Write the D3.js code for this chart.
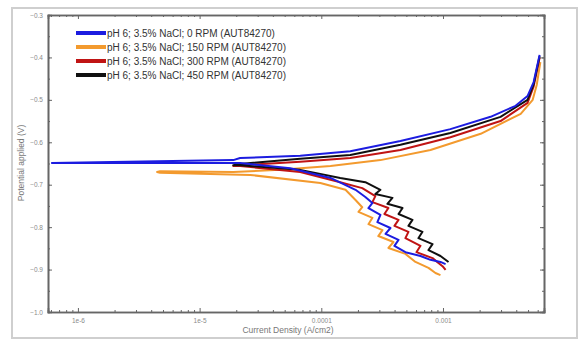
<!DOCTYPE html>
<html>
<head>
<meta charset="utf-8">
<script src="https://cdn.jsdelivr.net/npm/d3@7/dist/d3.min.js"></script>
<style>
  body { margin: 0; background: #fff; }
  svg { font-family: "Liberation Sans", Arial, sans-serif; }
</style>
</head>
<body>
<svg id="chart"></svg>
<script>
// series: current density (A/cm2) and potential (V)
const blueI = [1.05e-3, 9.53e-4, 7.89e-4, 6.53e-4, 4.91e-4, 3.99e-4, 4.31e-4, 3.37e-4, 3.70e-4, 2.89e-4, 3.06e-4, 2.44e-4, 2.63e-4, 2.30e-4, 1.91e-4, 1.19e-4, 5.56e-5, 2.15e-5, 6.11e-7, 1.89e-5, 2.15e-5, 6.71e-5, 1.73e-4, 4.47e-4, 1.15e-3, 2.46e-3, 3.95e-3, 4.95e-3, 5.56e-3, 6.22e-3]
const blueE = [-0.887, -0.882, -0.877, -0.868, -0.859, -0.844, -0.830, -0.816, -0.802, -0.788, -0.771, -0.755, -0.743, -0.729, -0.712, -0.684, -0.661, -0.649, -0.649, -0.642, -0.637, -0.632, -0.621, -0.597, -0.569, -0.540, -0.514, -0.491, -0.458, -0.394]

const orangeI = [9.53e-4, 8.67e-4, 7.60e-4, 5.94e-4, 4.91e-4, 3.56e-4, 3.92e-4, 2.94e-4, 3.18e-4, 2.44e-4, 2.63e-4, 2.02e-4, 2.17e-4, 1.91e-4, 1.58e-4, 9.82e-5, 2.61e-5, 4.73e-6, 4.47e-6, 4.73e-6, 1.89e-5, 4.60e-5, 1.19e-4, 3.06e-4, 7.89e-4, 2.04e-3, 4.35e-3, 5.46e-3, 5.89e-3, 6.31e-3]
const orangeE = [-0.913, -0.908, -0.896, -0.882, -0.863, -0.849, -0.835, -0.821, -0.807, -0.793, -0.778, -0.764, -0.753, -0.736, -0.712, -0.696, -0.677, -0.672, -0.670, -0.668, -0.670, -0.665, -0.656, -0.642, -0.618, -0.580, -0.533, -0.500, -0.465, -0.411]

const redI = [1.05e-3, 9.91e-4, 8.20e-4, 6.05e-4, 6.53e-4, 4.91e-4, 5.20e-4, 3.99e-4, 4.31e-4, 3.30e-4, 3.56e-4, 2.63e-4, 2.78e-4, 2.17e-4, 1.43e-4, 6.71e-5, 2.15e-5, 1.89e-5, 2.15e-5, 6.71e-5, 1.73e-4, 4.47e-4, 1.15e-3, 2.97e-3, 4.95e-3, 5.56e-3, 6.22e-3]
const redE = [-0.901, -0.892, -0.873, -0.859, -0.844, -0.826, -0.811, -0.797, -0.783, -0.769, -0.755, -0.741, -0.727, -0.708, -0.694, -0.670, -0.656, -0.656, -0.654, -0.646, -0.637, -0.618, -0.588, -0.550, -0.507, -0.468, -0.401]

const blackI = [1.11e-3, 9.53e-4, 7.60e-4, 8.20e-4, 6.28e-4, 6.78e-4, 5.20e-4, 5.61e-4, 4.31e-4, 4.65e-4, 3.49e-4, 3.84e-4, 2.78e-4, 3.06e-4, 2.30e-4, 1.43e-4, 6.71e-5, 2.15e-5, 1.89e-5, 2.15e-5, 6.71e-5, 1.73e-4, 4.47e-4, 1.15e-3, 2.97e-3, 4.95e-3, 5.56e-3, 6.22e-3]
const blackE = [-0.882, -0.868, -0.854, -0.840, -0.826, -0.811, -0.797, -0.783, -0.769, -0.755, -0.745, -0.731, -0.722, -0.712, -0.694, -0.684, -0.665, -0.654, -0.654, -0.651, -0.639, -0.630, -0.606, -0.578, -0.540, -0.500, -0.463, -0.397]

const legendLabels = [
  "pH 6; 3.5% NaCl; 0 RPM (AUT84270)",
  "pH 6; 3.5% NaCl; 150 RPM (AUT84270)",
  "pH 6; 3.5% NaCl; 300 RPM (AUT84270)",
  "pH 6; 3.5% NaCl; 450 RPM (AUT84270)"
]
const colors = ["#1c1ce0", "#f39a2e", "#c01414", "#101010"]

const xTicks = [1e-6, 1e-5, 1e-4, 1e-3]
const xTickLabels = ["1e-6", "1e-5", "0.0001", "0.001"]
const yTicks = [-1, -0.9, -0.8, -0.7, -0.6, -0.5, -0.4, -0.3]

const W = 579, H = 346
const svg = d3.select("svg#chart")
              .attr("width", W)
              .attr("height", H)

//outer frame
svg.append("rect")
   .attr("x", 12).attr("y", 8)
   .attr("width", 565).attr("height", 330)
   .attr("fill", "#fff")
   .attr("stroke", "#cfcfcf")
   .attr("stroke-width", 2)

const pLeft = 48, pRight = 544, pTop = 15, pBottom = 312

const x = d3.scaleLog()
            .domain([10 ** -6.246, 10 ** -2.17])
            .range([pLeft, pRight])
const y = d3.scaleLinear()
            .domain([-1, -0.3])
            .range([pBottom, pTop])

//minor ticks
const xMinor = []
for (let e = -7; e <= -2; e++) for (let m = 2; m <= 9; m++) {
  const v = m * 10 ** e
  if (v > x.domain()[0] && v < x.domain()[1]) xMinor.push(v)
}
const yMinor = d3.range(-1, -0.29, 0.05)

const axisColor = "#666"
const g = svg.append("g")

// bottom / top
g.append("g")
 .attr("transform", `translate(0,${pBottom})`)
 .call(d3.axisBottom(x).tickValues(xMinor).tickSize(-2).tickFormat(""))
g.append("g")
 .attr("transform", `translate(0,${pTop})`)
 .call(d3.axisTop(x).tickValues(xMinor).tickSize(-2).tickFormat(""))
g.append("g")
 .attr("transform", `translate(0,${pBottom})`)
 .call(d3.axisBottom(x).tickValues(xTicks).tickSize(-4).tickPadding(6)
        .tickFormat((d, i) => xTickLabels[i]))
g.append("g")
 .attr("transform", `translate(0,${pTop})`)
 .call(d3.axisTop(x).tickValues(xTicks).tickSize(-4).tickFormat(""))

// left / right
g.append("g")
 .attr("transform", `translate(${pLeft},0)`)
 .call(d3.axisLeft(y).tickValues(yMinor).tickSize(-2).tickFormat(""))
g.append("g")
 .attr("transform", `translate(${pRight},0)`)
 .call(d3.axisRight(y).tickValues(yMinor).tickSize(-2).tickFormat(""))
g.append("g")
 .attr("transform", `translate(${pLeft},0)`)
 .call(d3.axisLeft(y).tickValues(yTicks).tickSize(-4).tickPadding(5)
        .tickFormat(d3.format(".1f")))
g.append("g")
 .attr("transform", `translate(${pRight},0)`)
 .call(d3.axisRight(y).tickValues(yTicks).tickSize(-4).tickFormat(""))

g.selectAll(".domain").attr("stroke", axisColor).attr("stroke-width", 1.6)
g.selectAll(".tick line").attr("stroke", axisColor).attr("stroke-width", 1)
g.selectAll(".tick text").attr("fill", "#8a8a8a").attr("font-size", 6.5)

//axis titles
svg.append("text")
   .attr("x", 288)
   .attr("y", 333)
   .attr("text-anchor", "middle")
   .attr("font-size", 8.5)
   .attr("fill", "#777")
   .text("Current Density (A/cm2)")

svg.append("text")
   .attr("transform", `translate(24,163) rotate(-90)`)
   .attr("text-anchor", "middle")
   .attr("font-size", 8.5)
   .attr("fill", "#777")
   .text("Potential applied (V)")

//curves
const series = [
  {I: orangeI, E: orangeE, c: colors[1]},
  {I: redI, E: redE, c: colors[2]},
  {I: blackI, E: blackE, c: colors[3]},
  {I: blueI, E: blueE, c: colors[0]}
]
const line = d3.line()
               .x(d => x(d[0]))
               .y(d => y(d[1]))

series.forEach(s => {
  svg.append("path")
     .datum(s.I.map((v, i) => [v, s.E[i]]))
     .attr("d", line)
     .attr("fill", "none")
     .attr("stroke", s.c)
     .attr("stroke-width", 2)
     .attr("stroke-linejoin", "round")
})

//legend
const legend = svg.append("g")
legendLabels.forEach((t, i) => {
  const ly = 33 + i * 14
  legend.append("line")
        .attr("x1", 76).attr("x2", 106)
        .attr("y1", ly).attr("y2", ly)
        .attr("stroke", colors[i])
        .attr("stroke-width", 4)
  legend.append("text")
        .attr("x", 107)
        .attr("y", ly + 3.5)
        .attr("font-size", 10)
        .attr("fill", "#333")
        .text(t)
})
</script>
</body>
</html>
